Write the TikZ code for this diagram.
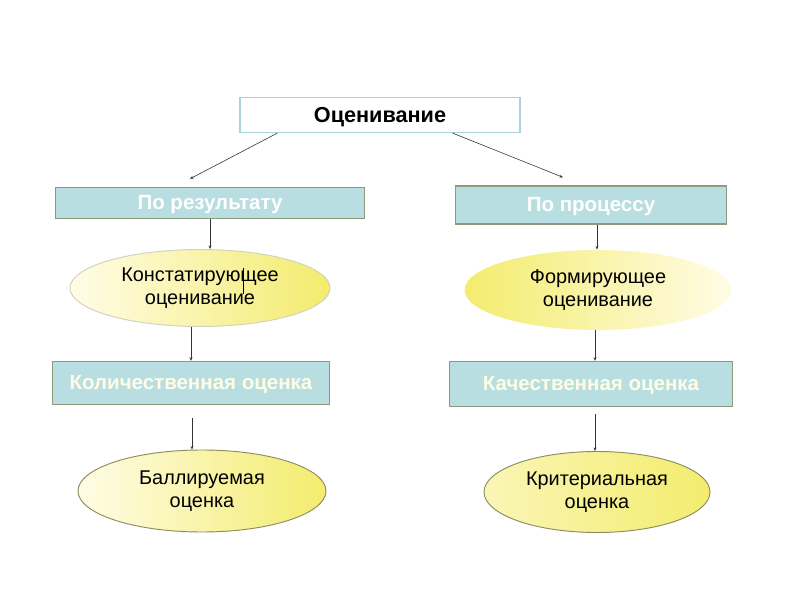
\documentclass[tikz,border=0pt]{standalone}
\usepackage{fontspec}
\setmainfont{Liberation Sans}
\usetikzlibrary{arrows.meta,shapes.geometric}
\definecolor{boxfill}{HTML}{B9DEE2}
\definecolor{boxline}{HTML}{8E9A7C}
\definecolor{topline}{HTML}{A9D2DA}
\definecolor{ylight}{HTML}{FFFCE6}
\definecolor{ydark}{HTML}{F3EC6E}
\definecolor{ovline}{HTML}{8C8C5E}
\tikzset{
  head/.style={draw=topline, line width=1pt, fill=white, minimum width=280*0.03cm, minimum height=35*0.03cm, font=\bfseries\fontsize{18.5}{20}\selectfont, text depth=0.05em},
  kind/.style={draw=boxline, line width=1.2pt, fill=boxfill, text=white, font=\bfseries\fontsize{17.5}{20}\selectfont, text depth=0.05em},
  oval/.style={ellipse, draw=ovline!40, line width=0.8pt, align=center, font=\fontsize{17}{20}\selectfont, inner sep=0pt},
  arr/.style={-{Stealth[length=3pt,width=2.5pt]}, line width=0.5pt, draw=black!80}
}
\begin{document}
\begin{tikzpicture}[x=0.03cm,y=-0.03cm]
\useasboundingbox (0,0) rectangle (800,600);
\node[head] (top) at (380,115) {Оценивание};
\node[kind, minimum width=309*0.03cm, minimum height=31*0.03cm] (res) at (210,203) {По результату};
\node[kind, minimum width=271*0.03cm, minimum height=38*0.03cm] (proc) at (591,205) {По процессу};
\node[oval, left color=ylight, right color=ydark, minimum width=260*0.03cm, minimum height=77*0.03cm] (kons) at (200,288) {Констатирующее\\оценивание};
\node[oval, left color=ydark, right color=ylight, draw=none, minimum width=267*0.03cm, minimum height=80*0.03cm] (form) at (598,290) {Формирующее\\оценивание};
\node[kind, text=ylight, minimum width=277*0.03cm, minimum height=43*0.03cm] (kol) at (191,383) {Количественная оценка};
\node[kind, text=ylight, minimum width=283*0.03cm, minimum height=45*0.03cm] (kach) at (591,384) {Качественная оценка};
\node[oval, draw=ovline, left color=ylight, right color=ydark, minimum width=248*0.03cm, minimum height=82*0.03cm] (ball) at (202,491) {Баллируемая\\оценка};
\node[oval, draw=ovline, left color=ylight!60!ydark, right color=ydark, minimum width=226*0.03cm, minimum height=81*0.03cm] (krit) at (597,492) {Критериальная\\оценка};
\draw[arr] (top.190) -- ([xshift=-20*0.03cm, yshift=8*0.03cm]res.north);
\draw[arr] (top.-14) -- ([xshift=-28*0.03cm, yshift=8*0.03cm]proc.north);
\draw[arr] (res.south) -- (res.south |- kons.north);
\draw[arr] ([xshift=6*0.03cm]proc.south) -- ([xshift=6*0.03cm]proc.south |- form.north);
\draw[arr] (kol.north |- kons.south) -- (kol.north);
\draw[arr] ([xshift=4*0.03cm]kach.north |- form.south) -- ([xshift=4*0.03cm]kach.north);
\draw[arr, shorten <=13*0.03cm] ([xshift=1*0.03cm]kol.south) -- ([xshift=1*0.03cm]kol.south |- ball.north);
\draw[arr, shorten <=7*0.03cm] ([xshift=4*0.03cm]kach.south) -- ([xshift=4*0.03cm]kach.south |- krit.north);
\draw[line width=0.7pt] ([xshift=43*0.03cm, yshift=-6*0.03cm]kons.center) -- ([xshift=43*0.03cm, yshift=20*0.03cm]kons.center);
\end{tikzpicture}
\end{document}
